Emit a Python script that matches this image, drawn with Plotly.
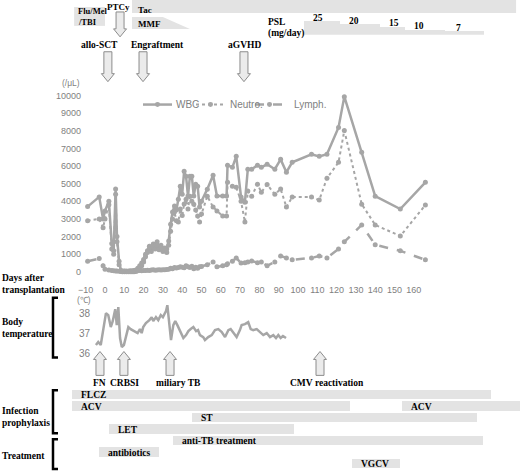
import plotly.graph_objects as go

# ---- lab values (/uL) by day after transplantation ----
lab_days = [-9, -3, -1, 0, 2, 3.5, 4.5, 5.5, 6.2, 7.3, 8.3, 9, 10, 11, 12, 13, 14, 15, 16, 17,
            18, 19, 20, 21, 22, 23, 24, 25, 26, 27, 28, 29, 30, 31, 32, 33, 34, 35, 36, 37,
            38, 39, 40, 41, 42, 43, 44, 45, 46, 47, 48, 49, 50, 53, 56, 58, 61, 63, 63.5, 66,
            68, 70.5, 72.5, 74, 76, 79, 81, 84, 88, 91, 94, 97, 107, 111, 115, 121, 124, 133,
            140, 153, 166]
wbc = [3700, 4250, 3000, 3450, 4000, 1600, 1200, 4700, 2000, 600, 80, 50, 40, 50, 30, 60, 50, 70, 100, 200,
       350, 500, 700, 1000, 1200, 1450, 1300, 1580, 1500, 1700, 1400, 1500, 1300, 1350, 1300, 1750, 2700, 3400, 3730, 3500,
       4120, 4860, 4400, 5700, 5420, 4300, 5420, 5420, 4300, 4970, 4860, 3670, 4000, 4690, 5480, 4300, 4300, 4300, 6050, 5930,
       6550, 4240, 3950, 5820, 5820, 6050, 5930, 6100, 5820, 6380, 5650, 6210, 6670, 6550, 6670, 8190, 9940, 6780,
       4290, 3560, 5080]
neutro = [2900, 3000, 2500, 3000, 3800, 1300, 1000, 4400, 1700, 400, 30, 10, 5, 5, 5, 10, 5, 10, 20, 80,
          200, 350, 550, 850, 1100, 1300, 1150, 1400, 1300, 1500, 1250, 1350, 1150, 1200, 1100, 1500, 2300, 3000, 3400, 2900,
          2820, 3560, 3200, 3850, 4120, 3560, 4290, 4000, 3840, 3500, 3160, 2820, 3280, 4290, 3670, 3450, 3160, 3160, 5080, 4860,
          4800, 4000, 2820, 4580, 4290, 4970, 4520, 4950, 4400, 4700, 3670, 4240, 4240, 4070, 5310, 6210, 8020, 3840,
          2660, 2030, 3790]
lymph = [600, 750, 350, 150, 100, 80, 60, 50, 40, 30, 20, 20, 30, 20, 30, 30, 40, 50, 60, 60,
         70, 60, 80, 70, 90, 80, 100, 110, 90, 100, 110, 100, 120, 110, 130, 150, 200, 180, 250, 220,
         250, 280, 260, 230, 340, 280, 250, 320, 170, 260, 200, 280, 300, 400, 560, 280, 340, 400, 450, 600,
         790, 500, 510, 550, 620, 510, 560, 340, 560, 900, 790, 680, 790, 900, 790, 1300, 1700, 2660,
         1530, 1190, 680]

# ---- body temperature ----
temp_days = [-4.7, -3.5, -2.2, -0.9, 0.5, 1.7, 3.0, 4.0, 5.3, 6.1, 6.9, 7.8, 8.7, 9.8, 10.9, 12.1, 13.3,
             15.0, 16.9, 18.1, 19.0, 19.8, 21.2, 23.0, 24.2, 25.0, 26.4, 27.6, 28.9, 30.0, 31.6, 32.3,
             33.3, 34.2, 35.4, 36.4, 37.5, 38.5, 39.7, 40.6, 42.0, 43.2, 44.4, 45.8, 47.2, 48.2, 49.2,
             50.9, 51.8, 53.5, 55.3, 57.0, 58.7, 60.5, 62.2, 63.9, 65.1, 66.5, 68.2, 69.9, 70.8, 72.5,
             74.2, 75.5, 76.8, 78.6, 80.3, 82.0, 83.8, 85.5, 87.2, 88.6, 89.8, 91.0, 92.2, 93.8]
temp_c = [36.4, 36.55, 36.4, 37.1, 38.0, 37.9, 37.3, 37.6, 38.2, 37.4, 38.3, 36.75, 36.3, 36.4, 36.8, 37.3, 37.2,
          37.1, 37.0, 37.2, 37.0, 37.3, 37.5, 37.65, 37.8, 37.6, 37.8, 37.65, 37.9, 37.8, 38.1, 38.4,
          37.3, 36.65, 37.4, 37.6, 37.4, 37.2, 37.0, 36.75, 36.9, 37.1, 37.2, 37.3, 37.1, 37.15, 36.9,
          36.8, 36.65, 36.8, 36.9, 37.15, 37.2, 37.05, 36.8, 37.15, 37.2, 37.0, 36.8, 37.15, 37.4, 37.45,
          37.55, 37.2, 37.15, 37.2, 37.05, 36.9, 37.0, 36.8, 36.9, 36.75, 36.9, 36.75, 36.85, 36.75]

# ---- events ----
top_events = ["allo-SCT", "Engraftment", "aGVHD"]
top_event_days = [1.5, 19.7, 72]
ptcy_day = 7.8
inf_events = ["FN", "CRBSI", "miliary TB", "CMV reactivation"]
inf_event_days = [-2.6, 9.8, 33.7, 111.4]

# ---- regimens (days) ----
cond_days = [-16, 0]
tac_days = [14, 213]
mmf_days = [14, 30, 44]          # start, taper start, end
psl_dose = [25, 20, 15, 10, 7]
psl_start = [103, 122, 142.5, 155.5, 176]
psl_end = [122, 142.5, 155.5, 176, 196.5]

drugs = ["FLCZ", "ACV", "ACV", "ST", "LET", "anti-TB treatment", "antibiotics", "VGCV"]
drug_row = [0, 1, 1, 2, 3, 4, 5, 6]
drug_start = [-17, -17, 154, 45, 2, 35, -3, 128]
drug_end = [200, 127, 215, 193, 98, 196, 28, 153]

series = ["WBC", "Neutro.", "Lymph."]
series_dash = ["solid", "dot", "dash"]

W, H = 520, 473
PXD = 1.93      # px per day
D0 = 105        # px of day 0
GRAY = "#a6a6a6"
TXT = "#7f7f7f"
BAR = "#e3e3e3"
SERIF = "Liberation Serif"
SANS = "Liberation Sans"
FS = 9.5


def yp(p):
    return 1 - p / H


def xd(p):
    return (p - D0) / PXD


full_range = [xd(0), xd(W)]
lab_range = [-15, 170]
lab_dom = [(D0 + PXD * lab_range[0]) / W, (D0 + PXD * lab_range[1]) / W]

fig = go.Figure()
for name, vals, dash in zip(series, [wbc, neutro, lymph], series_dash):
    fig.add_trace(go.Scatter(x=lab_days, y=vals, name=name, mode="lines+markers", showlegend=False,
                             line=dict(color=GRAY, width=2 if dash == "dot" else 2.5, dash=dash),
                             marker=dict(size=5, color=GRAY)))
fig.add_trace(go.Scatter(x=temp_days, y=temp_c, mode="lines", showlegend=False,
                         line=dict(color=GRAY, width=2.5), xaxis="x2", yaxis="y2"))

fig.add_trace(go.Bar(x=[e - s for s, e in zip(drug_start, drug_end)], base=drug_start, y=drug_row,
                     orientation="h", width=0.82, marker=dict(color=BAR, line=dict(width=0)),
                     showlegend=False, xaxis="x3", yaxis="y3"))
fig.add_trace(go.Bar(x=[(s + e) / 2 for s, e in zip(psl_start, psl_end)],
                     width=[e - s for s, e in zip(psl_start, psl_end)], y=psl_dose,
                     marker=dict(color=BAR, line=dict(width=0)), showlegend=False,
                     xaxis="x4", yaxis="y4"))

shapes = []
ann = []


def label(text, x, y, xref="paper", yref="paper", xanchor="center", size=FS, **kw):
    ann.append(dict(text="<b>%s</b>" % text, x=x, y=y, xref=xref, yref=yref, xanchor=xanchor,
                    yanchor="middle", showarrow=False, font=dict(family=SERIF, size=size, color="black"), **kw))


def arrow(day, tail, tip):
    s = 1 if tip > tail else -1
    hl = 8 * s
    sw, hw = 4 / PXD, 6.5 / PXD
    pts = [(day - sw, tail), (day + sw, tail), (day + sw, tip - hl), (day + hw, tip - hl),
           (day, tip), (day - hw, tip - hl), (day - sw, tip - hl)]
    path = "M" + " L".join("%.3f,%.4f" % (x, yp(y)) for x, y in pts) + " Z"
    shapes.append(dict(type="path", path=path, xref="x3", yref="paper",
                       fillcolor="#ebebeb", line=dict(color="#8c8c8c", width=1)))


# top regimen shapes
shapes.append(dict(type="rect", xref="x3", yref="paper", x0=tac_days[0], x1=tac_days[1],
                   y0=yp(13), y1=yp(0), fillcolor=BAR, line=dict(width=0), layer="below"))
shapes.append(dict(type="rect", xref="x3", yref="paper", x0=cond_days[0], x1=cond_days[1],
                   y0=yp(26), y1=yp(7), fillcolor=BAR, line=dict(width=0), layer="below"))
shapes.append(dict(type="path", xref="x3", yref="paper", fillcolor=BAR, line=dict(width=0), layer="below",
                   path="M%f,%f L%f,%f L%f,%f L%f,%f Z" % (mmf_days[0], yp(17), mmf_days[1], yp(17),
                                                          mmf_days[2], yp(29), mmf_days[0], yp(29))))
label("Flu/Mel", xd(76), yp(11), xref="x3", xanchor="left", size=8.5)
label("/TBI", xd(76), yp(22), xref="x3", xanchor="left", size=8.5)
label("PTCy", ptcy_day, yp(7), xref="x3", xshift=-2, size=9)
label("Tac", xd(136), yp(10), xref="x3", xanchor="left", size=9)
label("MMF", xd(136), yp(24), xref="x3", xanchor="left", size=9)
label("PSL", xd(266), yp(22), xref="x3", xanchor="left")
label("(mg/day)", xd(266), yp(34), xref="x3", xanchor="left")
for d, s in zip(psl_dose, psl_start):
    ann.append(dict(text="<b>%d</b>" % d, x=s, y=d, xref="x4", yref="y4", xanchor="center",
                    yanchor="bottom", xshift=14, yshift=-4, showarrow=False,
                    font=dict(family=SERIF, size=FS, color="black")))

arrow(ptcy_day, 12, 37)
for name, d in zip(top_events, top_event_days):
    arrow(d, 52, 82)
label(top_events[0], top_event_days[0], yp(45), xref="x3", xshift=-8)
label(top_events[1], top_event_days[1], yp(45), xref="x3", xshift=14)
label(top_events[2], top_event_days[2], yp(45), xref="x3", xshift=1)

for name, d in zip(inf_events, inf_event_days):
    arrow(d, 377, 353)
for name, d, sh in zip(inf_events, inf_event_days, [0, 1, 8, 7]):
    label(name, d, yp(385), xref="x3", xshift=sh)

for name, r, s in zip(drugs, drug_row, drug_start):
    label(name, s, r, xref="x3", yref="y3", xanchor="left", xshift=7, yshift=-1)

label("Days after", 0, yp(279), xanchor="left")
label("transplantation", 0, yp(291), xanchor="left")
label("Body", 0, yp(323), xanchor="left")
label("temperature", 0, yp(335), xanchor="left")
label("Infection", 0, yp(413), xanchor="left")
label("prophylaxis", 0, yp(425), xanchor="left")
label("Treatment", 0, yp(458), xanchor="left")

for top, bot in [(299, 359), (392, 435), (441, 471)]:
    shapes.append(dict(type="path", xref="paper", yref="paper", line=dict(color="black", width=2.5),
                       path="M%f,%f L%f,%f L%f,%f L%f,%f" % (58 / W, yp(top), 53 / W, yp(top),
                                                              53 / W, yp(bot), 58 / W, yp(bot))))

# legend drawn by hand (Excel style: short sample, text right next to it)
for name, dash, x0, tx in zip(series, series_dash, [143, 196, 255], [174, 228, 292]):
    shapes.append(dict(type="line", xref="paper", yref="paper", x0=x0 / W, x1=(x0 + 29) / W,
                       y0=yp(105), y1=yp(105), line=dict(color=GRAY, width=2.5 if dash != "dot" else 2, dash=dash)))
    shapes.append(dict(type="circle", xref="paper", yref="paper", x0=(x0 + 12) / W, x1=(x0 + 17) / W,
                       y0=yp(107.5), y1=yp(102.5), fillcolor=GRAY, line=dict(width=0)))
    ann.append(dict(text=name, x=tx / W, y=yp(105), xref="paper", yref="paper", xanchor="left",
                    yanchor="middle", showarrow=False, font=dict(family=SANS, size=10, color=TXT)))

ann.append(dict(text="(/μL)", x=60 / W, y=yp(76), xref="paper", yref="paper", showarrow=False,
                font=dict(family=SANS, size=8.5, color=TXT)))
ann.append(dict(text="(℃)", x=75 / W, y=yp(301), xref="paper", yref="paper", showarrow=False,
                font=dict(family=SANS, size=8.5, color=TXT)))

tick_font = dict(family=SANS, size=9, color=TXT)
fig.update_layout(
    width=W, height=H, margin=dict(l=0, r=0, t=0, b=0),
    paper_bgcolor="white", plot_bgcolor="rgba(0,0,0,0)",
    shapes=shapes, annotations=ann, barmode="overlay", bargap=0, showlegend=False,
    xaxis=dict(domain=lab_dom, range=lab_range, anchor="y", tickvals=list(range(-10, 161, 10)),
               showgrid=False, zeroline=False, showline=False, ticks="outside", ticklen=6,
               tickcolor="rgba(0,0,0,0)", tickfont=tick_font),
    yaxis=dict(domain=[yp(276.5), yp(88.9)], range=[-200, 10400], anchor="free", position=81 / W,
               tickvals=list(range(0, 10001, 1000)), tickformat="d", showgrid=False, zeroline=False,
               showline=False, tickfont=tick_font),
    xaxis2=dict(domain=lab_dom, range=lab_range, anchor="y2", visible=False),
    yaxis2=dict(domain=[yp(358.5), yp(302.5)], range=[35.8, 38.6], anchor="free", position=90 / W,
                tickvals=[36, 37, 38], showgrid=False, zeroline=False, showline=False,
                tickfont=dict(family=SANS, size=10, color=TXT)),
    xaxis3=dict(domain=[0, 1], range=full_range, anchor="y3", visible=False),
    yaxis3=dict(domain=[yp(470.75), yp(390.25)], range=[6.5, -0.5], anchor="x3", visible=False),
    xaxis4=dict(domain=[0, 1], range=full_range, anchor="y4", visible=False),
    yaxis4=dict(domain=[yp(35), yp(12.6)], range=[0, 40], anchor="x4", visible=False),
)

fig.write_html("out.html", config={"displayModeBar": False},
               post_script="document.body.style.margin='0';document.body.style.overflow='hidden';")
